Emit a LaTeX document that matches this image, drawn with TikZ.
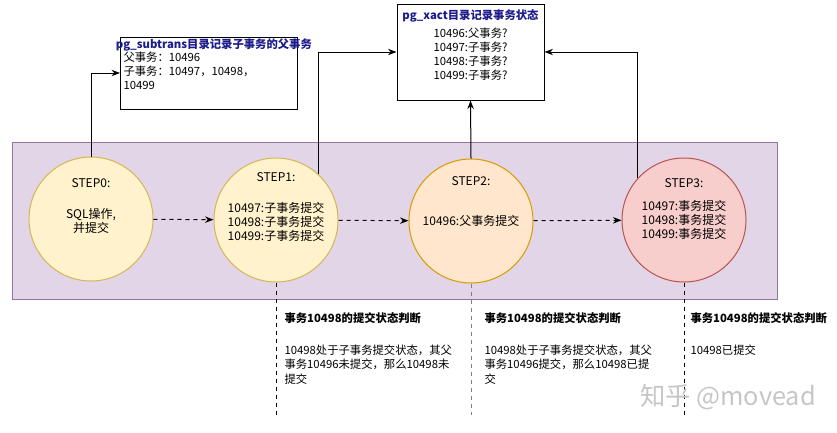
\documentclass[tikz,border=0pt]{standalone}
\usepackage{fontspec}
\setmainfont{Noto Sans CJK SC}
\usetikzlibrary{arrows.meta}

\definecolor{bandfill}{HTML}{E1D5E7}
\definecolor{banddraw}{HTML}{9673A6}
\definecolor{yelfill}{HTML}{FFF2CC}
\definecolor{yeldraw}{HTML}{D6B656}
\definecolor{orgfill}{HTML}{FFE6CC}
\definecolor{orgdraw}{HTML}{D79B00}
\definecolor{redfill}{HTML}{F8CECC}
\definecolor{reddraw}{HTML}{B85450}
\definecolor{titleblue}{HTML}{1C1C8C}

\begin{document}
\begin{tikzpicture}[>=Stealth, x=0.75pt, y=-0.75pt, line width=0.75pt,
    font=\fontsize{9}{10.5}\selectfont,
    stepcirc/.style={circle, minimum size=93pt, inner sep=0pt},
    tablebox/.style={draw, fill=white, rectangle, inner sep=0pt},
    boxtitle/.style={font=\fontsize{8.5}{10}\selectfont\bfseries, text=titleblue},
    note/.style={anchor=north west, align=left, inner sep=0pt, font=\fontsize{8.5}{11}\selectfont}]
  \useasboundingbox (0,0) rectangle (837,432);
  % Band
  \draw[fill=bandfill, draw=banddraw!80!gray] (12,142) rectangle (777,299);
  % Steps
  \node[stepcirc, fill=yelfill, draw=yeldraw] (step0) at (91,219) {};
  \node[stepcirc, fill=yelfill, draw=yeldraw] (step1) at (276,220) {};
  \node[stepcirc, fill=orgfill, draw=orgdraw] (step2) at (471,221) {};
  \node[stepcirc, fill=redfill, draw=reddraw] (step3) at (684,220) {};
  \node (t0) at (91,183) {STEP0:};
  \node[align=center] (s0) at (91,221) {SQL操作,\\并提交};
  \node (t1) at (276,177) {STEP1:};
  \node[align=center] (s1) at (276,222) {10497:子事务提交\\10498:子事务提交\\10499:子事务提交};
  \node (t2) at (471,181) {STEP2:};
  \node (s2) at (471,221) {10496:父事务提交};
  \node (t3) at (684,183) {STEP3:};
  \node[align=center] (s3) at (684,220) {10497:事务提交\\10498:事务提交\\10499:事务提交};
  % Step to step
  \draw[->, dashed] (step0) -- (step1);
  \draw[->, dashed] (step1) -- (step2);
  \draw[->, dashed] (step2) -- (step3);
  % pg_subtrans
  \node[tablebox, minimum width=132.75pt, minimum height=54pt] (subtrans) at (209,73) {};
  \node[boxtitle, anchor=west] (subtitle) at (111,45) {pg\_subtrans目录记录子事务的父事务};
  \node[note, font=\fontsize{8.5}{10.5}\selectfont] (sublines) at (123,51)
    {父事务：10496\\子事务：10497，10498，\\10499};
  % pg_xact
  \node[tablebox, minimum width=110.25pt, minimum height=72pt] (xact) at (470.5,52) {};
  \node[boxtitle] (xacttitle) at (470.5,16) {pg\_xact目录记录事务状态};
  \node[align=center, font=\fontsize{8.5}{10.5}\selectfont] (xactlines) at (470.5,54)
    {10496:父事务?\\10497:子事务?\\10498:子事务?\\10499:子事务?};
  % Writes
  \draw[->] (step0.north) |- (subtrans.west);
  \draw[->] (step1.47) |- (xact.west);
  \draw[->] (step2.north) -- (xact.south);
  \draw[->] (step3.138) |- (xact.east);
  % Judgements
  \coordinate (e1) at (276,415);
  \coordinate (e2) at (471,415);
  \coordinate (e3) at (684,415);
  \draw[dashed] (step1.south) -- (e1);
  \draw[dashed, gray] (step2.south) -- (e2);
  \draw[dashed] (step3.south) -- (e3);
  \node[note, font=\fontsize{8.5}{11}\selectfont\bfseries] (j1) at (284,312) {事务10498的提交状态判断};
  \node[note] (n1) at (284,344) {10498处于子事务提交状态，其父\\事务10496未提交，那么10498未\\提交};
  \node[note, font=\fontsize{8.5}{11}\selectfont\bfseries] (j2) at (484,312) {事务10498的提交状态判断};
  \node[note] (n2) at (484,344) {10498处于子事务提交状态，其父\\事务10496提交，那么10498已提\\交};
  \node[note, font=\fontsize{8.5}{11}\selectfont\bfseries] (j3) at (690,312) {事务10498的提交状态判断};
  \node[note] (n3) at (690,344) {10498已提交};
  % Watermark
  \node[text=gray!45, font=\fontsize{19}{20}\selectfont] (mark) at (728,397) {知乎 @movead};
\end{tikzpicture}
\end{document}
